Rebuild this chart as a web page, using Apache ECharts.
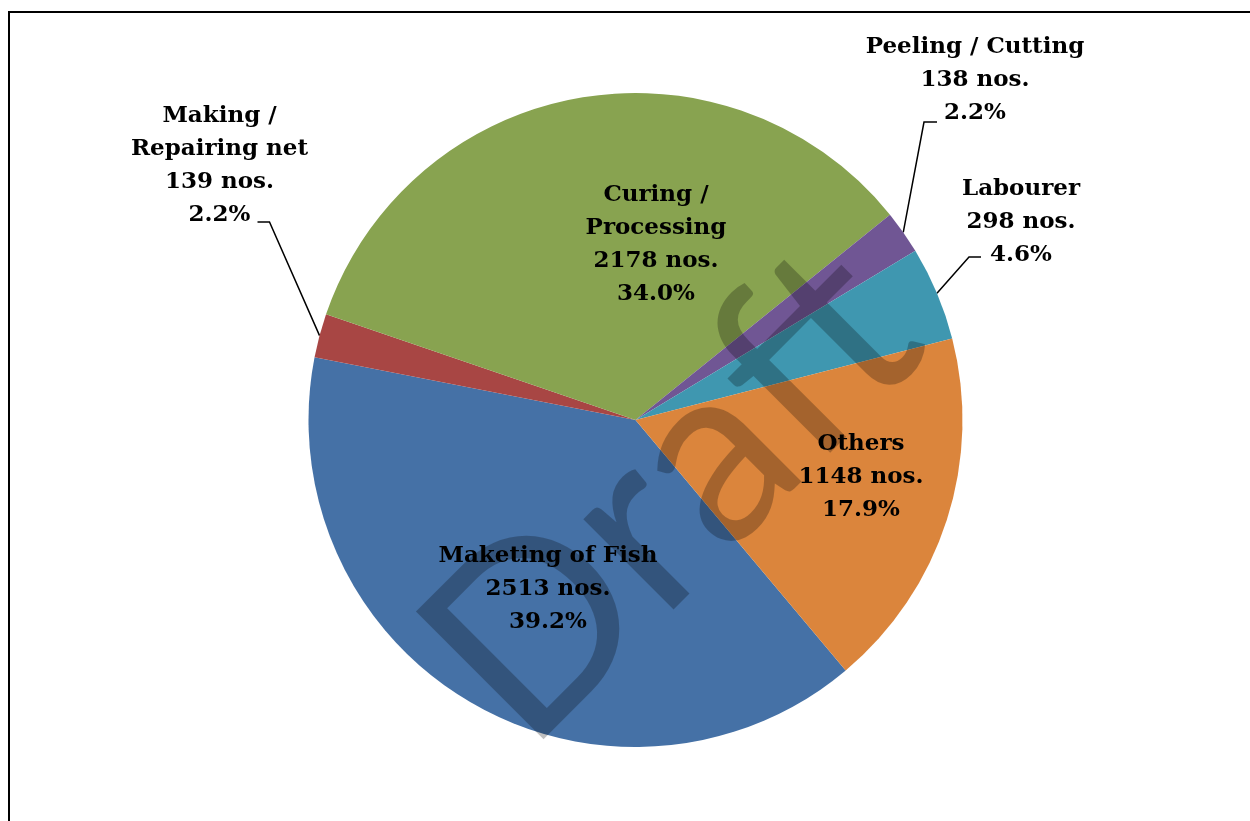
<!DOCTYPE html>
<html>
<head>
<meta charset="utf-8">
<title>Occupation of fisher households</title>
<script src="https://cdn.jsdelivr.net/npm/echarts@6/dist/echarts.min.js"></script>
<style>
  html, body { margin: 0; padding: 0; background: #ffffff; }
  #chart { width: 1250px; height: 821px; }
</style>
</head>
<body>
<div id="chart"></div>
<script>
// Occupation categories (clockwise order) and number of persons in each
const categories = ['Maketing of Fish', 'Making / Repairing net', 'Curing / Processing', 'Peeling / Cutting', 'Labourer', 'Others'];
const labelNames = ['Maketing of Fish', 'Making /\nRepairing net', 'Curing /\nProcessing', 'Peeling / Cutting', 'Labourer', 'Others'];
const persons = [2513, 139, 2178, 138, 298, 1148];

// Slice colours
const sliceColors = ['#4571a6', '#a84644', '#88a350', '#705694', '#3f97b0', '#db853c'];

// Label placement: centre of each label block, plus leader-line elbow / end
// offsets (relative to the label centre) for the labels drawn outside the pie
const labelPlacement = [
  { pos: 'inside',  x: 548,   y: 589 },
  { pos: 'outside', x: 219.5, y: 166, elbow: [50, 56],  end: [38, 56] },
  { pos: 'inside',  x: 656,   y: 245 },
  { pos: 'outside', x: 975,   y: 80,  elbow: [-51, 42], end: [-38, 42] },
  { pos: 'outside', x: 1021,  y: 222, elbow: [-52, 35], end: [-40, 35] },
  { pos: 'inside',  x: 861,   y: 477 }
];

const total = persons.reduce((a, b) => a + b, 0);

const chart = echarts.init(document.getElementById('chart'), null, { renderer: 'canvas' });

const seriesData = categories.map((name, i) => ({
  name: name,
  value: persons[i],
  itemStyle: { color: sliceColors[i] },
  label: { position: labelPlacement[i].pos },
  labelLine: { show: labelPlacement[i].pos === 'outside' }
}));

chart.setOption({
  animation: false,
  backgroundColor: '#ffffff',
  graphic: [
    {
      type: 'rect',
      silent: true,
      z: 0,
      shape: { x: 9, y: 12, width: 1300, height: 900 },
      style: { fill: 'none', stroke: '#000000', lineWidth: 2 }
    },
    {
      // diagonal "Draft" watermark across the pie
      type: 'text',
      silent: true,
      z: 100,
      x: 673,
      y: 495,
      rotation: Math.PI / 4,
      style: {
        text: 'Draft',
        font: 'normal 252px Lato',
        fill: 'rgba(0,0,0,0.25)',
        align: 'center',
        verticalAlign: 'middle'
      }
    }
  ],
  series: [
    {
      type: 'pie',
      center: [635.5, 420],
      radius: 327,
      startAngle: 310,
      clockwise: true,
      avoidLabelOverlap: false,
      emphasis: { disabled: true },
      itemStyle: { borderWidth: 0 },
      label: {
        show: true,
        color: '#000000',
        fontFamily: 'DejaVu Serif',
        fontWeight: 'bold',
        fontSize: 23,
        lineHeight: 33,
        formatter: function (p) {
          const pct = (p.value / total * 100).toFixed(1);
          return labelNames[p.dataIndex] + '\n' + p.value + ' nos.\n' + pct + '%';
        }
      },
      labelLine: {
        show: true,
        length: 20,
        length2: 10,
        lineStyle: { color: '#000000', width: 1.5 }
      },
      labelLayout: function (params) {
        const p = labelPlacement[params.dataIndex];
        const out = { x: p.x, y: p.y, align: 'center', verticalAlign: 'middle' };
        if (p.end && params.labelLinePoints && params.labelLinePoints.length) {
          const edge = params.labelLinePoints[0];
          out.labelLinePoints = [
            [edge[0], edge[1]],
            [p.x + p.elbow[0], p.y + p.elbow[1]],
            [p.x + p.end[0], p.y + p.end[1]]
          ];
        }
        return out;
      },
      data: seriesData
    }
  ]
});
</script>
</body>
</html>
